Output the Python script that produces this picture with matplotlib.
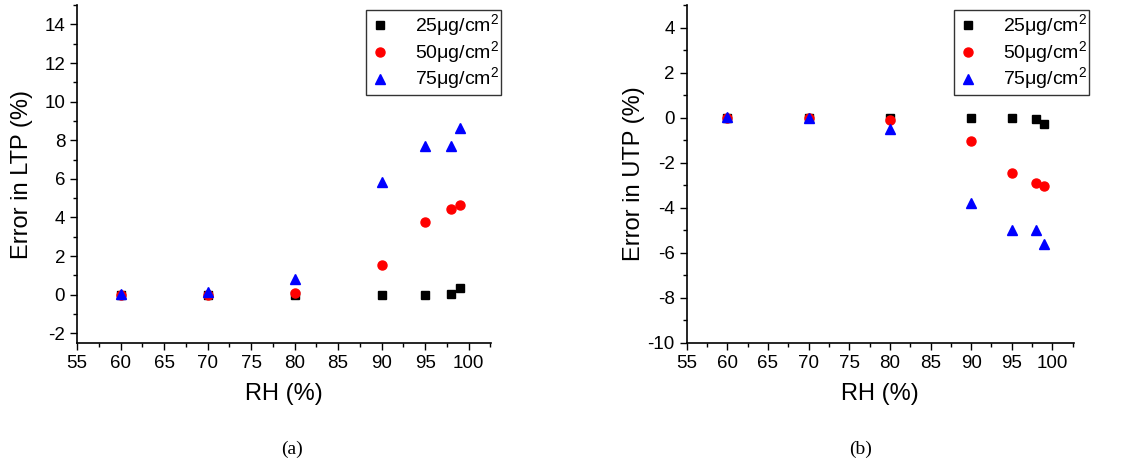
import matplotlib
matplotlib.use("Agg")
from matplotlib import pyplot as plt
from matplotlib.ticker import MultipleLocator

rh = [60, 70, 80, 90, 95, 98, 99]
labels = ["25μg/cm$^2$", "50μg/cm$^2$", "75μg/cm$^2$"]

ltp_25 = [0, 0, 0, 0, 0, 0.05, 0.35]
ltp_50 = [0, 0, 0.1, 1.55, 3.75, 4.45, 4.65]
ltp_75 = [0.05, 0.15, 0.8, 5.85, 7.7, 7.7, 8.65]

utp_25 = [0, 0, -0.02, -0.02, -0.03, -0.07, -0.27]
utp_50 = [0, -0.02, -0.1, -1.02, -2.45, -2.9, -3.05]
utp_75 = [0.05, 0, -0.5, -3.78, -5.0, -5.0, -5.6]

plt.rcParams["font.family"] = ["Liberation Sans", "DejaVu Sans"]
plt.rcParams["mathtext.fontset"] = "custom"
plt.rcParams["mathtext.rm"] = "Liberation Sans"
plt.rcParams["axes.unicode_minus"] = False

fig = plt.figure(figsize=(11.38, 4.66), dpi=100)
ax1 = fig.add_axes([0.0677, 0.264, 0.364, 0.725])
ax2 = fig.add_axes([0.6034, 0.264, 0.340, 0.725])

styles = [("s", "black", 6), ("o", "red", 6.5), ("^", "blue", 7)]


def draw(ax, series, ylim, ylabel, anchor_x, label_x):
    for (m, c, ms), ys, lab in zip(styles, series, labels):
        ax.plot(rh, ys, linestyle="none", marker=m, color=c, markersize=ms, label=lab)
    ax.set_xlim(55, 102.6)
    ax.set_ylim(*ylim)
    ax.xaxis.set_major_locator(MultipleLocator(5))
    ax.xaxis.set_minor_locator(MultipleLocator(2.5))
    ax.yaxis.set_major_locator(MultipleLocator(2))
    ax.yaxis.set_minor_locator(MultipleLocator(1))
    for s in ["top", "right"]:
        ax.spines[s].set_visible(False)
    for s in ["left", "bottom"]:
        ax.spines[s].set_linewidth(1.2)
    ax.tick_params(which="major", direction="out", length=5, width=1, labelsize=13.5)
    ax.tick_params(which="minor", direction="out", length=3, width=1)
    ax.set_xlabel("RH (%)", fontsize=17, labelpad=8)
    ax.set_ylabel(ylabel, fontsize=17)
    ax.yaxis.set_label_coords(label_x, 0.5)
    leg = ax.legend(loc="upper right", bbox_to_anchor=(anchor_x, 0.985), fontsize=14,
                    fancybox=False, framealpha=1, edgecolor="#333333",
                    handletextpad=1.2, borderpad=0.12, labelspacing=0.0,
                    handlelength=1.2, borderaxespad=0)
    leg.get_frame().set_linewidth(1.0)


draw(ax1, [ltp_25, ltp_50, ltp_75], (-2.5, 15), "Error in LTP (%)", 1.024, -0.106)
draw(ax2, [utp_25, utp_50, utp_75], (-10, 5), "Error in UTP (%)", 1.041, -0.108)

fig.text(0.257, 0.025, "(a)", fontsize=14, family="Liberation Serif", ha="center")
fig.text(0.756, 0.025, "(b)", fontsize=14, family="Liberation Serif", ha="center")

fig.savefig("out.png", dpi=100)
